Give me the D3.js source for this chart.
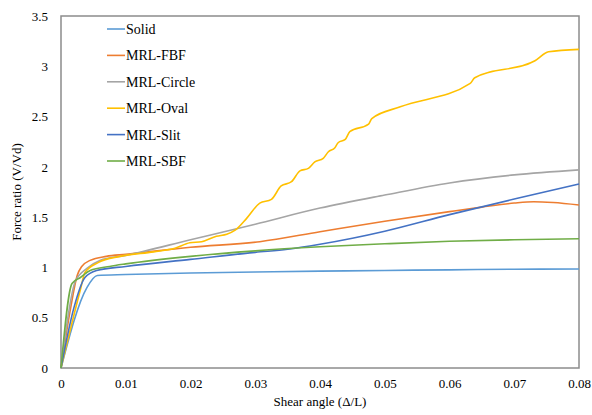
<!DOCTYPE html>
<html>
<head>
<meta charset="utf-8">
<script src="https://cdn.jsdelivr.net/npm/d3@7"></script>
<style>
  body { margin: 0; background: #fff; }
  text { font-family: "Liberation Serif", "Times New Roman", serif; fill: #000; }
</style>
</head>
<body>
<div id="chart"></div>
<script>
// series names and colours
const seriesNames = ['Solid', 'MRL-FBF', 'MRL-Circle', 'MRL-Oval', 'MRL-Slit', 'MRL-SBF'];
const seriesColors = ['#5B9BD5', '#ED7D31', '#A5A5A5', '#FFC000', '#4472C4', '#70AD47'];

// [shear angle, force ratio]
const solid = [[0, 0], [0.004, 0.8], [0.0056, 0.92], [0.01, 0.93], [0.02, 0.945], [0.03, 0.955],
  [0.04, 0.963], [0.05, 0.97], [0.06, 0.976], [0.07, 0.982], [0.08, 0.985]];
const fbf = [[0, 0], [0.0015, 0.6], [0.0025, 0.92], [0.0032, 1.01], [0.0045, 1.07], [0.007, 1.11],
  [0.01, 1.13], [0.02, 1.2], [0.0307, 1.256], [0.04, 1.355], [0.05, 1.46], [0.06, 1.555],
  [0.065, 1.6], [0.07, 1.64], [0.073, 1.653], [0.076, 1.645], [0.08, 1.62]];
const circle = [[0, 0], [0.0022, 0.86], [0.004, 0.99], [0.006, 1.07], [0.01, 1.12], [0.02, 1.275],
  [0.03, 1.43], [0.04, 1.59], [0.05, 1.72], [0.06, 1.84], [0.07, 1.92], [0.08, 1.97]];
const oval = [[0, 0], [0.003, 0.78], [0.0037, 0.95], [0.0058, 1.05], [0.0091, 1.11], [0.0143, 1.155],
  [0.0176, 1.19], [0.0199, 1.245], [0.0217, 1.255], [0.024, 1.31], [0.0256, 1.33], [0.0269, 1.37],
  [0.0287, 1.49], [0.0307, 1.64], [0.0325, 1.677], [0.034, 1.81], [0.0356, 1.852], [0.0369, 1.96],
  [0.0382, 1.985], [0.0392, 2.05], [0.0405, 2.085], [0.0413, 2.15], [0.0423, 2.19], [0.0428, 2.24],
  [0.0439, 2.273], [0.0446, 2.35], [0.0475, 2.425], [0.048, 2.48], [0.0524, 2.597], [0.0632, 2.83],
  [0.0639, 2.886], [0.0732, 3.055], [0.0753, 3.144], [0.08, 3.168]];
const slit = [[0, 0], [0.002, 0.6], [0.0037, 0.9], [0.0055, 0.97], [0.01, 1.01], [0.02, 1.08],
  [0.03, 1.15], [0.035, 1.18], [0.04, 1.23], [0.045, 1.29], [0.05, 1.36], [0.06, 1.525],
  [0.07, 1.68], [0.08, 1.83]];
const sbf = [[0, 0], [0.0017, 0.84], [0.003, 0.9], [0.0045, 0.97], [0.0075, 1.01], [0.01, 1.035],
  [0.02, 1.11], [0.03, 1.165], [0.04, 1.205], [0.05, 1.235], [0.06, 1.26], [0.07, 1.275], [0.08, 1.285]];

const allSeries = [solid, fbf, circle, oval, slit, sbf];

const xTicks = [0, 0.01, 0.02, 0.03, 0.04, 0.05, 0.06, 0.07, 0.08];
const yTicks = [0, 0.5, 1, 1.5, 2, 2.5, 3, 3.5];

const width = 592;
const height = 415;
const margin = { top: 16, right: 13, bottom: 47, left: 61 };
const chartWidth = width - margin.left - margin.right;
const chartHeight = height - margin.top - margin.bottom;

const svg = d3.select('#chart').append('svg').attr('width', width).attr('height', height);

const x = d3.scaleLinear().domain([0, 0.08]).range([0, chartWidth]);
const y = d3.scaleLinear().domain([0, 3.5]).range([chartHeight, 0]);

const chart = svg.append('g').attr('transform', `translate(${margin.left}, ${margin.top})`);

// axes (labels only, no tick marks)
chart
  .append('g')
  .attr('transform', `translate(0, ${chartHeight})`)
  .call(d3.axisBottom(x).tickValues(xTicks).tickSize(0).tickPadding(11).tickFormat((d) => (d === 0 ? '0' : d3.format('.2f')(d))))
  .call((g) => g.select('.domain').remove())
  .selectAll('text')
  .style('font-family', '"Liberation Serif", serif')
  .style('font-size', '13px');

chart
  .append('g')
  .call(d3.axisLeft(y).tickValues(yTicks).tickSize(0).tickPadding(13).tickFormat((d) => String(d)))
  .call((g) => g.select('.domain').remove())
  .selectAll('text')
  .style('font-family', '"Liberation Serif", serif')
  .style('font-size', '13px');

// plot frame
chart
  .append('rect')
  .attr('width', chartWidth)
  .attr('height', chartHeight)
  .attr('fill', 'none')
  .attr('stroke', '#8c8c8c')
  .attr('stroke-width', 1.5);

const line = d3
  .line()
  .x((d) => x(d[0]))
  .y((d) => y(d[1]))
  .curve(d3.curveMonotoneX);

chart
  .selectAll('.series')
  .data(allSeries)
  .enter()
  .append('path')
  .attr('class', 'series')
  .attr('d', line)
  .attr('fill', 'none')
  .attr('stroke', (d, i) => seriesColors[i])
  .attr('stroke-width', 1.6);

// legend
const legend = svg.append('g').attr('transform', 'translate(107, 29)');
const rows = legend
  .selectAll('.legend-row')
  .data(seriesNames)
  .enter()
  .append('g')
  .attr('class', 'legend-row')
  .attr('transform', (d, i) => `translate(0, ${i * 26.4})`);

rows
  .append('line')
  .attr('x1', 0)
  .attr('x2', 18)
  .attr('stroke', (d, i) => seriesColors[i])
  .attr('stroke-width', 1.6);

rows
  .append('text')
  .attr('x', 19)
  .attr('dy', '0.35em')
  .style('font-size', '14px')
  .text((d) => d);

// axis titles
svg
  .append('text')
  .attr('x', margin.left + chartWidth / 2)
  .attr('y', 406)
  .attr('text-anchor', 'middle')
  .style('font-size', '13px')
  .text('Shear angle (Δ/L)');

svg
  .append('text')
  .attr('transform', `translate(21, ${margin.top + chartHeight / 2}) rotate(-90)`)
  .attr('text-anchor', 'middle')
  .style('font-size', '13px')
  .text('Force ratio (V/Vd)');
</script>
</body>
</html>
